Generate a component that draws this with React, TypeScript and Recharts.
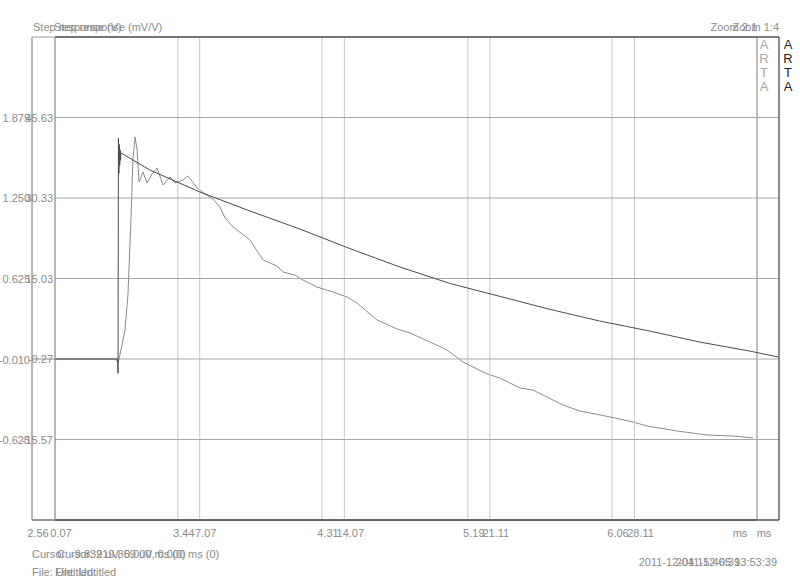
import { LineChart, Line, XAxis, YAxis, CartesianGrid, ReferenceLine } from 'recharts';

// first capture (V), time in ms
const aTime = [
  2.56, 3.067, 3.079, 3.097, 3.121, 3.139, 3.157, 3.169, 3.182, 3.194, 3.206, 3.23, 3.254, 3.284, 3.314,
  3.351, 3.393, 3.423, 3.471, 3.501, 3.556, 3.604, 3.652, 3.694, 3.725, 3.773, 3.876, 3.954, 4.038, 4.075,
  4.147, 4.195, 4.28, 4.376, 4.461, 4.521, 4.642, 4.763, 4.841, 4.962, 5.064, 5.161, 5.306, 5.384, 5.505,
  5.583, 5.764, 5.867, 5.927, 6.048, 6.187, 6.271, 6.452, 6.633, 6.79, 6.911,
];
const aVolt = [
  0, 0, -0.035, 0.07, 0.225, 0.497, 1.079, 1.545, 1.724, 1.623, 1.374, 1.452, 1.366, 1.436, 1.483,
  1.351, 1.413, 1.366, 1.39, 1.421, 1.328, 1.281, 1.242, 1.18, 1.095, 1.025, 0.924, 0.769, 0.722, 0.675,
  0.652, 0.613, 0.559, 0.52, 0.481, 0.435, 0.303, 0.233, 0.202, 0.132, 0.07, -0.023, -0.116, -0.148, -0.225,
  -0.241, -0.357, -0.404, -0.419, -0.45, -0.489, -0.52, -0.559, -0.59, -0.598, -0.613,
];
const aXTicks = [2.56, 3.44, 4.31, 5.19, 6.06];
const aYTicks = [1.875, 1.25, 0.625, -0.01, -0.625];

// second capture (mV/V)
const bTime = [
  0.07, 3.1, 3.12, 3.14, 3.16, 3.18, 3.2, 3.22, 3.24, 3.26, 4.66, 7.08, 9.5, 11.91, 14.33, 16.75, 19.17,
  21.58, 24.0, 26.42, 28.83, 31.25, 33.67, 35.07,
];
const bResp = [
  -0.27, -0.27, -3.0, 41.7, 35.0, 40.5, 36.5, 39.5, 37.5, 38.9, 35.65, 31.47, 27.86, 24.44, 20.73, 17.22, 14.1,
  11.65, 9.18, 6.95, 5.05, 2.96, 1.25, 0.11,
];
const bXTicks = [0.07, 7.07, 14.07, 21.11, 28.11];
const bYTicks = [45.63, 30.33, 15.03, -0.27, -15.57];

const aData = aTime.map((t, i) => ({ t, v: aVolt[i] }));
const bData = bTime.map((t, i) => ({ t, v: bResp[i] }));

const font = '"Liberation Sans", Arial, sans-serif';
const gray = '#8a8a8a';

const xTick = (digits: number) => (props: any) => (
  <text x={props.x + 6} y={props.y + 17} textAnchor="middle" fontSize={11} fontFamily={font} fill={gray}>
    {Number(props.payload.value).toFixed(digits)}
  </text>
);

const yTick = (digits: number) => (props: any) => (
  <text x={props.x - 2} y={props.y + 4} textAnchor="end" fontSize={11} fontFamily={font} fill={gray}>
    {Number(props.payload.value).toFixed(digits)}
  </text>
);

function Layer({ data, xDomain, yDomain, xTicks, yTicks, xDigits, yDigits, left, right, lineColor, frameColor, hGrid }: any) {
  return (
    <div style={{ position: 'absolute', left: 0, top: 0 }}>
      <LineChart width={800} height={582} data={data} margin={{ top: 37, right, bottom: 0, left: 0 }}>
        <CartesianGrid horizontal={false} stroke="#c8c8c8" />
        {hGrid && <CartesianGrid vertical={false} stroke="#a8a8a8" />}
        <XAxis
          type="number"
          dataKey="t"
          domain={xDomain}
          ticks={xTicks}
          allowDataOverflow
          height={62}
          tickSize={0}
          tickMargin={0}
          tickLine={false}
          axisLine={{ stroke: '#303030' }}
          tick={xTick(xDigits)}
        />
        <YAxis
          type="number"
          domain={yDomain}
          ticks={yTicks}
          allowDataOverflow
          width={left}
          tickSize={0}
          tickMargin={0}
          tickLine={false}
          axisLine={{ stroke: '#8a8a8a' }}
          tick={yTick(yDigits)}
        />
        <ReferenceLine y={yDomain[1]} stroke={frameColor} ifOverflow="visible" />
        <ReferenceLine x={xDomain[1]} stroke={frameColor} ifOverflow="visible" />
        <Line type="linear" dataKey="v" stroke={lineColor} strokeWidth={1} dot={false} isAnimationActive={false} />
      </LineChart>
    </div>
  );
}

export default function App() {
  return (
    <div style={{ position: 'absolute', left: 0, top: 0, width: 800, height: 582, background: '#fff' }}>
      <Layer
        data={aData}
        xDomain={[2.56, 6.935]}
        yDomain={[-1.25, 2.5]}
        xTicks={aXTicks}
        yTicks={aYTicks}
        xDigits={2}
        yDigits={3}
        left={32}
        right={43}
        lineColor="#8c8c8c"
        frameColor="#9a9a9a"
        hGrid={false}
      />
      <Layer
        data={bData}
        xDomain={[0.07, 35.1]}
        yDomain={[-30.87, 60.93]}
        xTicks={bXTicks}
        yTicks={bYTicks}
        xDigits={2}
        yDigits={2}
        left={55}
        right={21}
        lineColor="#4a4a4a"
        frameColor="#303030"
        hGrid
      />
      <svg width={800} height={582} style={{ position: 'absolute', left: 0, top: 0, pointerEvents: 'none' }}>
        <g fontFamily={font} fontSize={11} fill={gray}>
          <text x={33} y={31}>Step response (V)</text>
          <text x={54} y={31}>Step response (mV/V)</text>
          <text x={757} y={31} textAnchor="end">Zoom 2:1</text>
          <text x={779} y={31} textAnchor="end">Zoom 1:4</text>
          <text x={740} y={537} textAnchor="middle">ms</text>
          <text x={764} y={537} textAnchor="middle">ms</text>
          <text x={32} y={558}>Cursor: -9.839 uV, 0.000 ms (0)</text>
          <text x={57} y={558}>Cursor: 219.859 uV, 0.000 ms (0)</text>
          <text x={32} y={576}>File: Untitled</text>
          <text x={55} y={576}>File: Untitled</text>
          <text x={740} y={566} textAnchor="end">2011-12-04 15:46:39</text>
          <text x={777} y={566} textAnchor="end">2011-12-05 13:53:39</text>
        </g>
        <g fontFamily={font} fontSize={13} textAnchor="middle">
          {['A', 'R', 'T', 'A'].map((c, i) => (
            <text key={'a' + i} x={764} y={49 + i * 14} fill="#a8a8a8">{c}</text>
          ))}
          {['A', 'R', 'T', 'A'].map((c, i) => (
            <text key={'b' + i} x={788} y={49 + i * 14} fill="#222">{c}</text>
          ))}
        </g>
      </svg>
    </div>
  );
}
